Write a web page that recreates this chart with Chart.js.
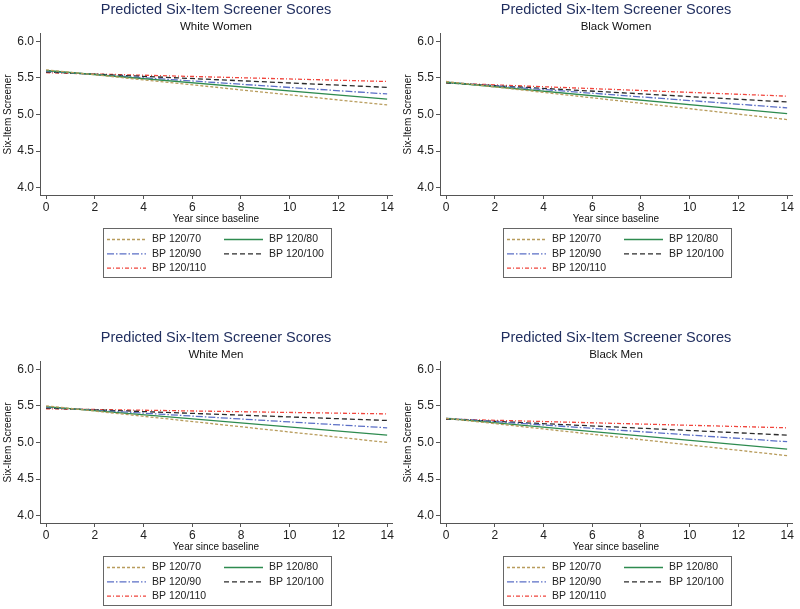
<!DOCTYPE html>
<html>
<head>
<meta charset="utf-8">
<script src="https://cdn.jsdelivr.net/npm/chart.js@4/dist/chart.umd.min.js"></script>
<style>
  body { margin: 0; background: #fff; }
  #wrap { position: relative; width: 800px; height: 609px; background: #fff; }
  #wrap canvas { position: absolute; }
</style>
</head>
<body>
<div id="wrap">
  <canvas id="c0" width="400" height="290" style="left:0;top:0"></canvas>
  <canvas id="c1" width="400" height="290" style="left:400px;top:0"></canvas>
  <canvas id="c2" width="400" height="290" style="left:0;top:328px"></canvas>
  <canvas id="c3" width="400" height="290" style="left:400px;top:328px"></canvas>
</div>
<script>
// data (straight lines from baseline to year 14)
const years = [0, 14];
const seriesLabels = ['BP 120/70', 'BP 120/80', 'BP 120/90', 'BP 120/100', 'BP 120/110'];
const panelTitles = ['White Women', 'Black Women', 'White Men', 'Black Men'];

const whiteWomenStart = [5.61, 5.60, 5.59, 5.58, 5.57];
const whiteWomenEnd   = [5.13, 5.21, 5.28, 5.37, 5.45];
const blackWomenStart = [5.45, 5.44, 5.44, 5.43, 5.43];
const blackWomenEnd   = [4.93, 5.01, 5.09, 5.17, 5.25];
const whiteMenStart   = [5.50, 5.49, 5.48, 5.47, 5.46];
const whiteMenEnd     = [5.00, 5.10, 5.20, 5.30, 5.39];
const blackMenStart   = [5.33, 5.33, 5.33, 5.32, 5.32];
const blackMenEnd     = [4.82, 4.91, 5.01, 5.10, 5.20];

const xTicks = [0, 2, 4, 6, 8, 10, 12, 14];
const yTicks = [4.0, 4.5, 5.0, 5.5, 6.0];

const lineColors = ['#b89c5c', '#2e8b4f', '#5b6fc6', '#2b2b2b', '#f0453c'];
const lineDashes = [[3, 2], [], [7, 2, 1.5, 2], [5, 3], [4, 2, 1, 2]];

Chart.defaults.font.family = "'Liberation Sans', Arial, sans-serif";
Chart.defaults.color = '#222';

// boxed two-column legend like the Stata one
const boxLegend = {
    id: 'boxLegend',
    afterDraw(chart) {
        const ctx = chart.ctx;
        const area = chart.chartArea;
        const bx = area.left + 63, by = area.bottom + 33, bw = 228, bh = 49;
        ctx.save();
        ctx.strokeStyle = '#666';
        ctx.lineWidth = 1;
        ctx.strokeRect(Math.round(bx) + 0.5, Math.round(by) + 0.5, bw, bh);
        ctx.font = "10.5px 'Liberation Sans', Arial, sans-serif";
        ctx.textBaseline = 'middle';
        ctx.fillStyle = '#222';
        chart.data.datasets.forEach((ds, i) => {
            const col = i % 2, row = Math.floor(i / 2);
            const y = by + 11.5 + row * 14.3;
            const lx = bx + (col ? 121 : 4);
            ctx.strokeStyle = ds.borderColor;
            ctx.lineWidth = 1.3;
            ctx.setLineDash(ds.borderDash);
            ctx.beginPath();
            ctx.moveTo(lx, y);
            ctx.lineTo(lx + 39, y);
            ctx.stroke();
            ctx.setLineDash([]);
            ctx.fillText(ds.label, bx + (col ? 166 : 49), y);
        });
        ctx.restore();
    }
};

function zeroPad(scale) {
    scale.paddingLeft = 0;
    scale.paddingRight = 0;
    scale.paddingTop = 0;
    scale.paddingBottom = 0;
}

function makePanel(id, subtitle, starts, ends) {
    const datasets = seriesLabels.map((label, i) => ({
        label: label,
        data: years.map((x, k) => ({ x: x, y: k === 0 ? starts[i] : ends[i] })),
        borderColor: lineColors[i],
        borderDash: lineDashes[i],
        borderWidth: 1.3,
        pointRadius: 0,
        fill: false,
        tension: 0
    }));

    new Chart(document.getElementById(id), {
        type: 'line',
        data: { datasets: datasets },
        plugins: [boxLegend],
        options: {
            responsive: false,
            animation: false,
            layout: { padding: { top: 0, right: 8, bottom: 65, left: 0 } },
            plugins: {
                legend: { display: false },
                tooltip: { enabled: false },
                title: {
                    display: true,
                    fullSize: false,
                    text: 'Predicted Six-Item Screener Scores',
                    color: '#1f2d5e',
                    font: { size: 14.5, weight: 'normal' },
                    padding: { top: 1.5, bottom: 0 }
                },
                subtitle: {
                    display: true,
                    fullSize: false,
                    text: subtitle,
                    color: '#111',
                    font: { size: 11.5, weight: 'normal' },
                    padding: { top: 1.2, bottom: 0 }
                }
            },
            scales: {
                x: {
                    type: 'linear',
                    min: -0.25,
                    max: 14.2,
                    afterBuildTicks: (scale) => { scale.ticks = xTicks.map(v => ({ value: v })); },
                    afterFit: (scale) => { scale.height = 30; zeroPad(scale); },
                    ticks: { font: { size: 12 }, padding: 1, maxRotation: 0, color: '#222' },
                    grid: { drawOnChartArea: false, drawTicks: true, tickLength: 4, color: '#555' },
                    border: { display: true, color: '#555', width: 1 },
                    title: {
                        display: true,
                        text: 'Year since baseline',
                        font: { size: 10 },
                        color: '#111',
                        padding: { top: 0, bottom: 0 }
                    }
                },
                y: {
                    type: 'linear',
                    min: 3.9,
                    max: 6.1,
                    afterBuildTicks: (scale) => { scale.ticks = yTicks.map(v => ({ value: v })); },
                    afterFit: (scale) => { scale.width = 40; zeroPad(scale); },
                    ticks: { font: { size: 12 }, padding: 2, color: '#222', callback: (v) => v.toFixed(1) },
                    grid: { drawOnChartArea: false, drawTicks: true, tickLength: 4, color: '#555' },
                    border: { display: true, color: '#555', width: 1 },
                    title: {
                        display: true,
                        text: 'Six-Item Screener',
                        font: { size: 10 },
                        color: '#111',
                        padding: { top: 2, bottom: 0 }
                    }
                }
            }
        }
    });
}

makePanel('c0', panelTitles[0], whiteWomenStart, whiteWomenEnd);
makePanel('c1', panelTitles[1], blackWomenStart, blackWomenEnd);
makePanel('c2', panelTitles[2], whiteMenStart, whiteMenEnd);
makePanel('c3', panelTitles[3], blackMenStart, blackMenEnd);
</script>
</body>
</html>
